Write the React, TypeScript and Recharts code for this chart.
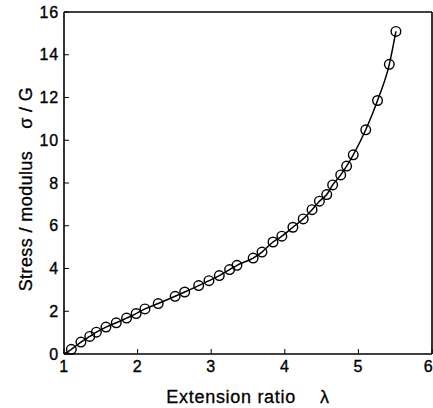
import React from "react";
import {
  ComposedChart,
  Line,
  Scatter,
  XAxis,
  YAxis
} from "recharts";

const extensionRatio = [
  1.1, 1.23, 1.35, 1.44, 1.57, 1.71, 1.85, 1.98, 2.1, 2.28, 2.51, 2.64, 2.83, 2.97, 3.11, 3.25, 3.35,
  3.57, 3.69, 3.84, 3.96, 4.11, 4.25, 4.37, 4.47, 4.57, 4.65, 4.76, 4.84, 4.93, 5.1, 5.26, 5.42, 5.51
];
const stressOverModulus = [
  0.22, 0.56, 0.82, 1.02, 1.26, 1.46, 1.68, 1.89, 2.11, 2.36, 2.7, 2.9, 3.2, 3.43, 3.67, 3.95, 4.15,
  4.49, 4.77, 5.24, 5.51, 5.93, 6.32, 6.75, 7.15, 7.46, 7.91, 8.38, 8.79, 9.32, 10.49, 11.86, 13.55, 15.09
];

// the curve starts at the unstretched state
const curveStart = { x: 1, y: 0 };

const xTicks = [1, 2, 3, 4, 5, 6];
const yTicks = [0, 2, 4, 6, 8, 10, 12, 14, 16];

const points = extensionRatio.map((x, i) => ({ x, y: stressOverModulus[i] }));
const curve = [curveStart, ...points];

const FONT = "'Liberation Sans', Arial, Helvetica, sans-serif";
const tickStyle = {
  fill: "#000",
  stroke: "#000",
  strokeWidth: 0.35,
  fontSize: 16,
  fontFamily: FONT,
  letterSpacing: 0.8
};
const axisStroke = { stroke: "#000", strokeWidth: 1.6 };
const tickLineStyle = { stroke: "#000", strokeWidth: 1 };

function XTitle({ viewBox }: any) {
  const cx = viewBox.x + viewBox.width / 2;
  return (
    <text
      x={cx}
      y={viewBox.y + 49}
      textAnchor="middle"
      fontSize={18}
      fontFamily={FONT}
      letterSpacing={0.7}
      fill="#000"
      stroke="#000"
      strokeWidth={0.3}
    >
      <tspan>Extension ratio</tspan>
      <tspan dx={24}>λ</tspan>
    </text>
  );
}

function YTitle({ viewBox }: any) {
  const cy = viewBox.y + viewBox.height / 2 + 6;
  const cx = 32;
  return (
    <text
      x={cx}
      y={cy}
      transform={`rotate(-90 ${cx} ${cy})`}
      textAnchor="middle"
      fontSize={18}
      fontFamily={FONT}
      letterSpacing={0.4}
      fill="#000"
      stroke="#000"
      strokeWidth={0.3}
    >
      <tspan>Stress / modulus</tspan>
      <tspan dx={22}>σ / G</tspan>
    </text>
  );
}

export default function App() {
  return (
    <div style={{ position: "absolute", left: 0, top: 0, background: "#fff" }}>
      <ComposedChart
        width={433}
        height={408}
        margin={{ top: 11, right: 0, bottom: 0, left: 0 }}
      >
        <XAxis
          xAxisId="bottom"
          type="number"
          dataKey="x"
          domain={[1, 6]}
          ticks={xTicks}
          allowDataOverflow
          height={54}
          tickSize={-5}
          tickMargin={12}
          tick={tickStyle}
          axisLine={axisStroke}
          tickLine={tickLineStyle}
          label={<XTitle />}
        />
        <XAxis
          xAxisId="top"
          orientation="top"
          type="number"
          dataKey="x"
          domain={[1, 6]}
          ticks={xTicks}
          height={1}
          tickSize={-5}
          tick={false}
          axisLine={axisStroke}
          tickLine={tickLineStyle}
        />
        <YAxis
          yAxisId="left"
          type="number"
          dataKey="y"
          domain={[0, 16]}
          ticks={yTicks}
          width={64}
          tickSize={-5}
          tickMargin={10}
          tick={tickStyle}
          axisLine={axisStroke}
          tickLine={tickLineStyle}
          label={<YTitle />}
        />
        <YAxis
          yAxisId="right"
          orientation="right"
          type="number"
          dataKey="y"
          domain={[0, 16]}
          ticks={yTicks}
          width={1}
          tickSize={-5}
          tick={false}
          axisLine={axisStroke}
          tickLine={tickLineStyle}
        />
        <Line
          xAxisId="bottom"
          yAxisId="left"
          data={curve}
          dataKey="y"
          type="monotone"
          stroke="#000"
          strokeWidth={1.5}
          dot={false}
          activeDot={false}
          isAnimationActive={false}
        />
        <Scatter
          xAxisId="bottom"
          yAxisId="left"
          data={points}
          dataKey="y"
          shape={(p: any) => (
            <circle cx={p.cx} cy={p.cy} r={4.8} fill="none" stroke="#000" strokeWidth={1.4} />
          )}
          isAnimationActive={false}
        />
      </ComposedChart>
    </div>
  );
}
